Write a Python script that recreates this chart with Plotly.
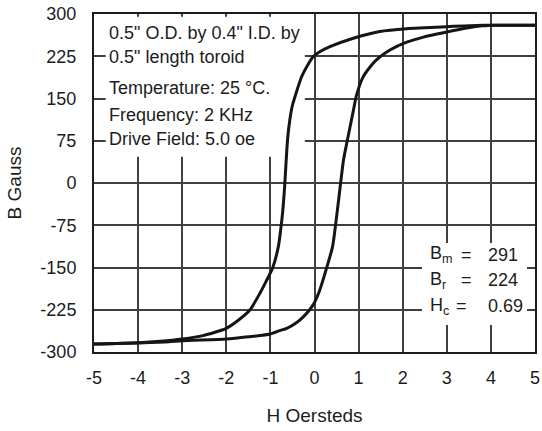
import plotly.graph_objects as go

# Descending branch (from +saturation to -saturation)
h_desc = [5.0, 4.5, 3.82, 3.0, 2.5, 2.09, 1.48, 0.88, 0.35, 0.1, -0.03, -0.15, -0.29, -0.42,
          -0.50, -0.56, -0.61, -0.65, -0.68, -0.72, -0.77, -0.82, -0.95, -1.1, -1.24, -1.47,
          -1.75, -2.0, -2.53, -3.0, -3.5, -4.0, -5.0]
b_desc = [280, 280, 280, 277.5, 275.5, 274, 269, 257, 242, 232, 224, 210, 189, 159,
          138, 112, 78, 30, -10, -50, -85, -113, -151, -175, -196, -226,
          -245, -258, -271, -277, -281, -283.5, -286]

# Ascending branch (from -saturation to +saturation)
h_asc = [-5.0, -4.0, -3.3, -3.0, -2.0, -1.5, -1.0, -0.79, -0.63, -0.41, -0.26, -0.11, 0.0, 0.12,
         0.27, 0.41, 0.51, 0.6, 0.66, 0.73, 0.88, 0.95, 1.1, 1.25, 1.41, 1.71, 2.09, 2.47, 3.0,
         3.45, 3.82, 4.1, 5.0]
b_asc = [-286, -284, -282, -280, -277, -273, -268, -262, -258, -248, -238, -225, -212, -190,
         -152, -113, -54, 5, 42, 70, 128, 155, 188, 205, 219, 236, 250, 259, 268,
         275, 279, 280, 280]

x_ticks = [-5, -4, -3, -2, -1, 0, 1, 2, 3, 4, 5]
x_ticklabels = ["-5", "-4", "-3", "-2", "-1", "0", "1", "2", "3", "4", "5"]
y_ticks = [-300, -225, -150, -75, 0, 75, 150, 225, 300]
y_ticklabels = ["-300", "-225", "-150", "-75", "0", "75", "150", "225", "300"]

info_lines = ['0.5" O.D. by 0.4" I.D. by', '0.5" length toroid',
              'Temperature: 25 °C.', 'Frequency: 2 KHz', 'Drive Field: 5.0 oe']
info_y = [266.8, 223.7, 168.1, 120.7, 77.6]

param_labels = ["B<sub>m</sub>", "B<sub>r</sub>", "H<sub>c</sub>"]
param_values = ["291", "224", "0.69"]
param_y = [-127.8, -172.2, -218.4]
param_eq_x = [3.45, 3.45, 3.337]

FONT = "Liberation Sans, Arial, Helvetica, sans-serif"
TXT = "#1c1c1c"
GRID = "#3f3f3f"

fig = go.Figure()
for hx, by in ((h_desc, b_desc), (h_asc, b_asc)):
    fig.add_trace(go.Scatter(x=hx, y=by, mode="lines",
                             line=dict(color="#151515", width=3, shape="spline", smoothing=0.6),
                             showlegend=False, hoverinfo="skip"))

# white boxes that interrupt the grid (between grid and traces)
fig.add_shape(type="rect", x0=-4.735, x1=-0.219, y0=46.7, y1=295, layer="between",
              fillcolor="white", line=dict(width=0))
fig.add_shape(type="rect", x0=2.436, x1=4.818, y0=-252, y1=-106.5, layer="between",
              fillcolor="white", line=dict(width=0))

for t, yy in zip(info_lines, info_y):
    fig.add_annotation(x=-4.71, y=yy, text=t, showarrow=False, xanchor="left", yanchor="middle",
                       font=dict(family=FONT, size=18, color=TXT))

for lab, val, yy, ex in zip(param_labels, param_values, param_y, param_eq_x):
    fig.add_annotation(x=2.57, y=yy, text=lab, showarrow=False, xanchor="left", yanchor="middle",
                       font=dict(family=FONT, size=18, color=TXT))
    fig.add_annotation(x=ex, y=yy, text="=", showarrow=False, xanchor="center", yanchor="middle",
                       font=dict(family=FONT, size=18, color=TXT))
    fig.add_annotation(x=3.90, y=yy, text=val, showarrow=False, xanchor="left", yanchor="middle",
                       font=dict(family=FONT, size=18, color=TXT))

fig.update_layout(
    width=542, height=431,
    margin=dict(l=94, r=7, t=14, b=79),
    paper_bgcolor="white", plot_bgcolor="white",
    font=dict(family=FONT, color=TXT),
    xaxis=dict(range=[-5, 5], tickvals=x_ticks, ticktext=x_ticklabels, automargin=False,
               showgrid=True, gridcolor=GRID, gridwidth=2, zeroline=False,
               showline=True, linecolor="#1c1c1c", linewidth=2, mirror=True,
               ticks="", ticklabelstandoff=8,
               tickfont=dict(family=FONT, size=18, color=TXT),
               title=dict(text="H Oersteds", font=dict(family=FONT, size=19, color=TXT), standoff=22)),
    yaxis=dict(range=[-300, 300], tickvals=y_ticks, ticktext=y_ticklabels, automargin=False,
               showgrid=True, gridcolor=GRID, gridwidth=2, zeroline=False,
               showline=True, linecolor="#1c1c1c", linewidth=2, mirror=True,
               ticks="", ticklabelstandoff=12,
               tickfont=dict(family=FONT, size=18, color=TXT),
               title=dict(text="B Gauss", font=dict(family=FONT, size=19, color=TXT), standoff=14)),
)

fig.write_html("out.html", config={"displayModeBar": False},
               post_script="document.body.style.margin='0';")
